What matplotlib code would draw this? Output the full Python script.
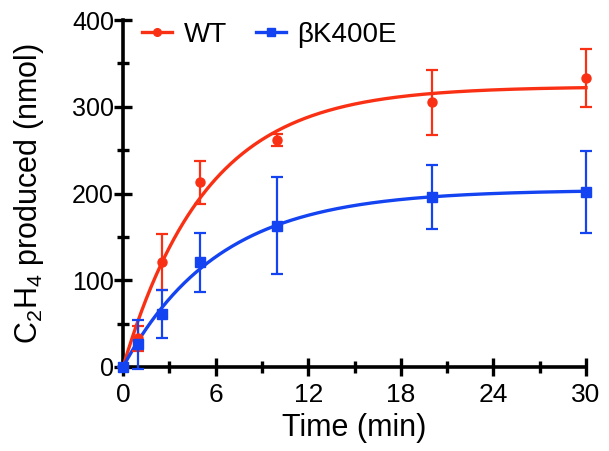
import numpy as np
import matplotlib
matplotlib.use("Agg")
import matplotlib.pyplot as plt
from matplotlib.ticker import MultipleLocator

plt.rcParams['font.family'] = ['Liberation Sans', 'DejaVu Sans']
plt.rcParams['mathtext.default'] = 'regular'

time = [0, 1, 2.5, 5, 10, 20, 30]
wt_mean = [0, 33, 121, 213, 262, 305, 333]
wt_err = [0, 14, 32, 25, 7, 37, 33]
mut_mean = [0, 26, 61, 121, 163, 196, 202]
mut_err = [0, 28, 28, 34, 56, 37, 47]

red = '#FA3014'
blue = '#1443F2'


def fit_assoc(t, y):
    t = np.asarray(t, float)
    y = np.asarray(y, float)
    best = None
    for k in np.linspace(0.01, 1.0, 5000):
        f = 1 - np.exp(-k * t)
        ymax = (f @ y) / (f @ f)
        sse = np.sum((y - ymax * f) ** 2)
        if best is None or sse < best[0]:
            best = (sse, ymax, k)
    return best[1], best[2]


fig = plt.figure(figsize=(6.09, 4.51), dpi=100)
ax = fig.add_axes([123 / 609, 84 / 451, 463 / 609, 347 / 451])

tt = np.linspace(0, 30, 400)
for mean, err, col, mk, ms, lab in [
    (wt_mean, wt_err, red, 'o', 6.5, 'WT'),
    (mut_mean, mut_err, blue, 's', 6.5, 'βK400E'),
]:
    ymax, k = fit_assoc(time, mean)
    ax.plot(tt, ymax * (1 - np.exp(-k * tt)), color=col, lw=2.4, clip_on=False, zorder=3)
    ax.errorbar(time, mean, yerr=err, fmt=mk, color=col, ms=ms, elinewidth=1.6,
                capsize=4, capthick=1.6, clip_on=False, zorder=4)
    ax.plot([], [], color=col, marker=mk, ms=5.5, lw=2.4, label=lab)

ax.set_xlim(0, 30)
ax.set_ylim(0, 400)
ax.xaxis.set_major_locator(MultipleLocator(6))
ax.xaxis.set_minor_locator(MultipleLocator(3))
ax.yaxis.set_major_locator(MultipleLocator(100))
ax.yaxis.set_minor_locator(MultipleLocator(50))
for s in ['top', 'right']:
    ax.spines[s].set_visible(False)
for s in ['left', 'bottom']:
    ax.spines[s].set_linewidth(2.6)
ax.tick_params(which='major', direction='inout', length=13, width=2.4)
ax.tick_params(which='minor', direction='inout', length=8, width=2.4)
ax.tick_params(axis='x', which='major', labelsize=19, pad=5)
ax.tick_params(axis='y', which='major', labelsize=18, pad=0)

ax.set_xlabel('Time (min)', fontsize=22, labelpad=4)
ax.set_ylabel('C$_2$H$_4$ produced (nmol)', fontsize=22, labelpad=19)

ax.legend(loc='upper left', ncol=2, frameon=False, fontsize=20, handlelength=1.08,
          handletextpad=0.4, columnspacing=1.05, bbox_to_anchor=(0.0, 1.05),
          borderaxespad=0.3)

fig.savefig('out.png', dpi=100)
